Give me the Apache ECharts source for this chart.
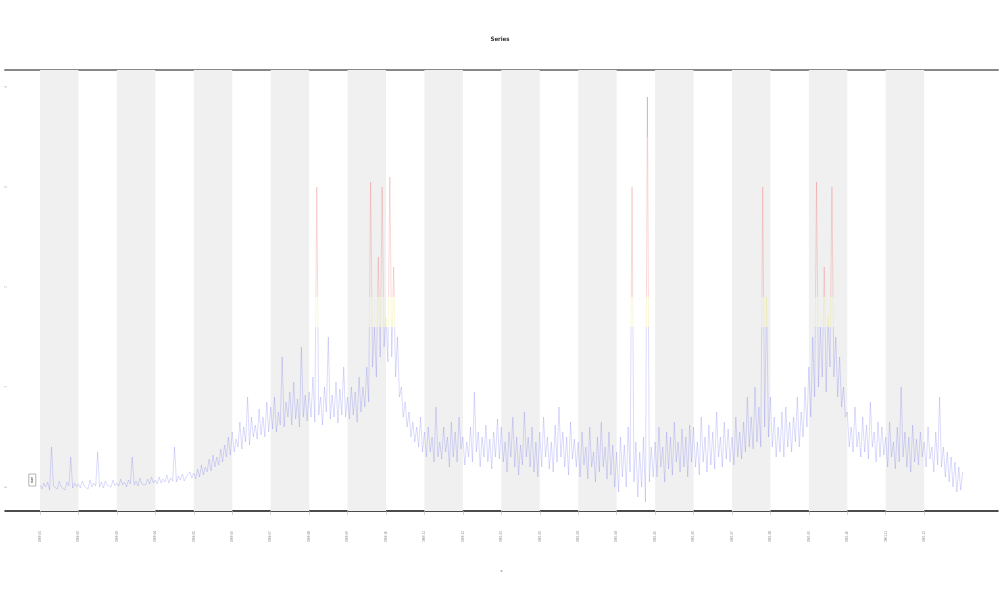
<!DOCTYPE html>
<html>
<head>
<meta charset="utf-8">
<script src="https://cdn.jsdelivr.net/npm/echarts@6/dist/echarts.min.js"></script>
<style>html,body{margin:0;padding:0;background:#fff}#c{width:1000px;height:600px}</style>
</head>
<body>
<div id="c"></div>
<script>
// ---- data ----
const titleText = 'Series';
const xName = 'x';
const yName = 'value_index';
const xTickValues = [0,1,2,3,4,5,6,7,8,9,10,11,12,13,14,15,16,17,18,19,20,21,22,23];
const xTickLabels = ['2000-01','2000-02','2000-03','2000-04','2000-05','2000-06','2000-07','2000-08','2000-09','2000-10','2000-11','2000-12','2001-01','2001-02','2001-03','2001-04','2001-05','2001-06','2001-07','2001-08','2001-09','2001-10','2001-11','2001-12'];
const yTickValues = [0,1,2,3,4];
const bandStarts = [0,2,4,6,8,10,12,14,16,18,20,22];
const xStep = 0.05;
const values = [
  0.02,-0.02,0.04,0.0,0.05,-0.03,0.4,0.01,0.03,-0.02,0.06,0.0,0.02,-0.03,0.05,0.01,0.3,-0.01,0.04,0.0,
  0.03,-0.01,0.06,0.01,0.02,-0.02,0.07,0.0,0.04,0.01,0.35,0.0,0.05,-0.01,0.06,0.02,0.03,0.0,0.07,0.01,
  0.04,0.01,0.08,0.02,0.05,0.0,0.07,0.03,0.3,0.02,0.06,0.01,0.09,0.03,0.05,0.02,0.08,0.03,0.1,0.04,
  0.07,0.03,0.1,0.04,0.08,0.05,0.12,0.04,0.09,0.06,0.4,0.05,0.11,0.07,0.13,0.06,0.1,0.08,0.15,0.09,
  0.14,0.08,0.18,0.1,0.22,0.12,0.2,0.15,0.28,0.16,0.32,0.2,0.3,0.22,0.38,0.25,0.42,0.3,0.5,0.32,
  0.55,0.35,0.48,0.4,0.65,0.38,0.6,0.45,0.9,0.42,0.7,0.5,0.62,0.48,0.78,0.52,0.7,0.5,0.85,0.55,
  0.8,0.58,0.9,0.55,0.75,0.62,1.3,0.6,0.85,0.7,0.95,0.62,1.05,0.68,0.88,0.6,1.4,0.7,0.92,0.66,
  0.95,0.7,1.1,0.65,3.0,0.72,0.9,0.62,1.0,0.75,1.5,0.68,0.92,0.7,1.05,0.64,0.98,0.72,1.2,0.7,
  0.9,0.68,1.0,0.72,0.95,0.65,1.1,0.75,1.0,0.8,1.2,0.85,3.05,1.2,1.6,1.1,2.3,1.3,3.0,1.4,
  1.7,1.25,3.1,1.3,2.2,1.1,1.5,0.9,1.0,0.7,0.85,0.6,0.75,0.5,0.65,0.45,0.6,0.4,0.7,0.35,
  0.55,0.3,0.6,0.35,0.5,0.25,0.8,0.3,0.45,0.28,0.6,0.35,0.5,0.2,0.65,0.3,0.55,0.25,0.7,0.38,
  0.5,0.22,0.45,0.3,0.6,0.25,0.95,0.35,0.55,0.2,0.5,0.3,0.62,0.25,0.48,0.18,0.55,0.3,0.68,0.28,
  0.6,0.25,0.45,0.15,0.55,0.3,0.7,0.2,0.5,0.12,0.42,0.22,0.75,0.3,0.5,0.2,0.6,0.15,0.45,0.1,
  0.55,0.2,0.7,0.3,0.5,0.18,0.45,0.15,0.62,0.25,0.8,0.3,0.55,0.2,0.5,0.12,0.65,0.28,0.48,0.2,
  0.45,0.1,0.55,0.22,0.4,0.08,0.6,0.2,0.35,0.05,0.5,0.15,0.65,0.2,0.4,0.08,0.55,0.12,0.42,0.0,
  0.35,-0.05,0.5,0.1,0.42,0.0,0.6,0.15,3.0,0.05,0.45,-0.1,0.35,0.0,0.5,-0.15,3.9,0.05,0.4,0.1,
  0.45,0.1,0.6,0.2,0.4,0.05,0.55,0.18,0.5,0.12,0.65,0.25,0.45,0.15,0.58,0.2,0.5,0.1,0.62,0.25,
  0.6,0.2,0.45,0.12,0.7,0.25,0.5,0.15,0.62,0.22,0.55,0.18,0.75,0.3,0.5,0.2,0.65,0.28,0.58,0.25,
  0.5,0.22,0.7,0.3,0.55,0.28,0.65,0.35,0.9,0.4,0.7,0.38,1.0,0.45,0.8,0.4,3.0,0.6,1.9,0.5,
  0.9,0.4,0.7,0.3,0.6,0.35,0.75,0.3,0.8,0.4,0.65,0.35,0.7,0.45,0.9,0.4,0.75,0.5,1.0,0.6,
  1.2,0.7,1.5,0.9,3.05,1.0,1.6,1.1,2.2,0.95,1.7,1.2,3.0,1.1,1.5,0.9,1.3,0.8,1.0,0.7,
  0.75,0.4,0.6,0.35,0.8,0.4,0.55,0.3,0.7,0.35,0.62,0.28,0.85,0.4,0.55,0.25,0.65,0.3,0.6,0.32,
  0.5,0.2,0.65,0.3,0.45,0.18,0.6,0.25,1.0,0.3,0.55,0.2,0.5,0.15,0.62,0.25,0.48,0.22,0.55,0.3,
  0.45,0.2,0.6,0.28,0.4,0.15,0.55,0.22,0.9,0.2,0.4,0.1,0.35,0.05,0.3,0.0,0.25,-0.05,0.2,-0.03,
  0.15
];
const startLabel = { x: -0.2, y: 0.07, text: 'start' };

// ---- chart ----
const seriesData = values.map((v, i) => [+(i * xStep).toFixed(3), v]);
const bands = bandStarts.map(s => [{ xAxis: s }, { xAxis: s + 1 }]);

const chart = echarts.init(document.getElementById('c'), null, { renderer: 'canvas' });
chart.setOption({
  animation: false,
  backgroundColor: '#fff',
  title: {
    text: titleText, left: 'center', top: 31,
    textStyle: { fontSize: 6, fontWeight: 'bold', color: '#333', fontFamily: 'DejaVu Sans Condensed' }
  },
  grid: { left: 5, right: 2, top: 70, bottom: 89, containLabel: false, outerBoundsMode: 'none' },
  xAxis: [{
    type: 'value', position: 'bottom', min: -0.91, max: 24.92,
    name: xName, nameLocation: 'middle', nameGap: 58,
    nameTextStyle: { fontSize: 4, color: '#666' },
    splitLine: { show: false },
    axisLine: { show: true, onZero: false, lineStyle: { color: '#111', width: 1.5 } },
    axisTick: { show: true, customValues: xTickValues, length: 4, lineStyle: { color: '#bbb', width: 0.6 } },
    axisLabel: {
      customValues: xTickValues, rotate: 90, fontSize: 3, color: '#888', margin: 20,
      formatter: v => xTickLabels[xTickValues.indexOf(Math.round(v))] || ''
    }
  }, {
    type: 'value', position: 'top', min: -0.91, max: 24.92,
    splitLine: { show: false },
    axisLine: { show: true, onZero: false, lineStyle: { color: '#888', width: 2 } },
    axisTick: { show: false }, axisLabel: { show: false }
  }],
  yAxis: {
    type: 'value', min: -0.24, max: 4.17,
    name: yName, nameLocation: 'middle', nameGap: -4,
    nameTextStyle: { fontSize: 4, color: '#aaa' },
    splitLine: { show: false },
    axisLine: { show: false }, axisTick: { show: false },
    axisLabel: { customValues: yTickValues, inside: true, rotate: 90, fontSize: 3, color: '#aaa', margin: 0 }
  },
  visualMap: {
    type: 'piecewise', show: false, dimension: 1, seriesIndex: 0,
    pieces: [
      { lt: 1.6, color: '#5656ee' },
      { gte: 1.6, lt: 1.9, color: '#e4e040' },
      { gte: 1.9, lt: 3.5, color: '#f04848' },
      { gte: 3.5, color: '#444' }
    ]
  },
  series: [{
    type: 'line', xAxisIndex: 0, data: seriesData, showSymbol: false, sampling: null,
    lineStyle: { width: 0.6, opacity: 0.35 },
    markArea: { silent: true, itemStyle: { color: '#f0f0f0' }, data: bands },
    markPoint: {
      silent: true, symbol: 'rect', symbolSize: [7, 12],
      itemStyle: { color: '#fff', borderColor: '#888', borderWidth: 0.6 },
      label: { show: true, position: 'inside', rotate: 90, fontSize: 3, color: '#333' },
      data: [{ coord: [startLabel.x, startLabel.y], value: startLabel.text }]
    }
  }]
});
</script>
</body>
</html>
